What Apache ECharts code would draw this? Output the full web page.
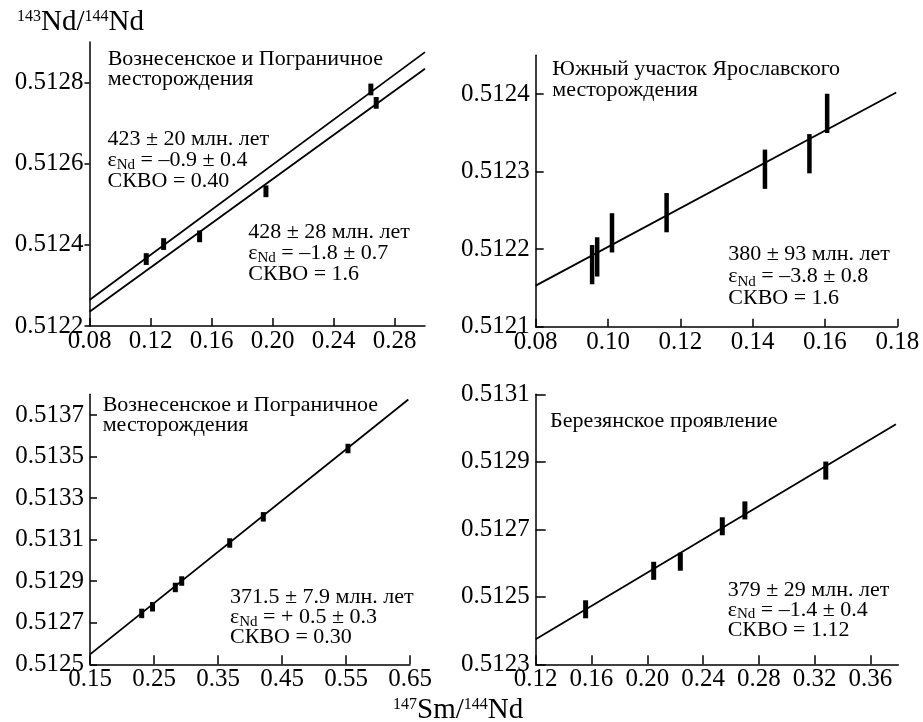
<!DOCTYPE html>
<html><head><meta charset="utf-8">
<script src="https://cdn.jsdelivr.net/npm/echarts@6/dist/echarts.min.js"></script>
<style>html,body{margin:0;padding:0;background:#fff}#c{width:923px;height:722px}</style>
</head><body><div id="c"></div>
<script>
// ---------- Panel A: top-left ----------
const aX   = [0.1172, 0.1286, 0.1522, 0.1957, 0.2645, 0.2680];
const aY   = [0.512365, 0.512402, 0.512421, 0.512532, 0.512783, 0.512750];
const aErr = [0.0000145, 0.0000145, 0.0000145, 0.0000145, 0.0000145, 0.0000145];
const aLine1 = [[0.08, 0.512264], [0.30, 0.512875]];
const aLine2 = [[0.08, 0.512235], [0.30, 0.512834]];
const aXTicks = [0.08, 0.12, 0.16, 0.20, 0.24, 0.28];
const aYTicks = [0.5122, 0.5124, 0.5126, 0.5128];

// ---------- Panel B: top-right ----------
const bX   = [0.0956, 0.0970, 0.1011, 0.1162, 0.1434, 0.1557, 0.1606];
const bY   = [0.512180, 0.512190, 0.512221, 0.512247, 0.512303, 0.512323, 0.512375];
const bErr = [0.0000253, 0.0000253, 0.0000253, 0.0000253, 0.0000253, 0.0000253, 0.0000253];
const bLine = [[0.08, 0.512153], [0.1797, 0.512402]];
const bXTicks = [0.08, 0.10, 0.12, 0.14, 0.16, 0.18];
const bYTicks = [0.5121, 0.5122, 0.5123, 0.5124];

// ---------- Panel C: bottom-left ----------
const cX   = [0.2308, 0.2477, 0.2833, 0.2933, 0.3683, 0.4208, 0.5531];
const cY   = [0.512745, 0.512777, 0.512870, 0.512901, 0.513084, 0.513210, 0.513539];
const cErr = [0.0000228, 0.0000228, 0.0000228, 0.0000228, 0.0000228, 0.0000228, 0.0000228];
const cLine = [[0.15, 0.512548], [0.6474, 0.513775]];
const cXTicks = [0.15, 0.25, 0.35, 0.45, 0.55, 0.65];
const cYTicks = [0.5125, 0.5127, 0.5129, 0.5131, 0.5133, 0.5135, 0.5137];

// ---------- Panel D: bottom-right ----------
const dX   = [0.1558, 0.2046, 0.2237, 0.2538, 0.2700, 0.3280];
const dY   = [0.512463, 0.512577, 0.512604, 0.512709, 0.512756, 0.512874];
const dErr = [0.0000267, 0.0000267, 0.0000267, 0.0000267, 0.0000267, 0.0000267];
const dLine = [[0.12, 0.512374], [0.3783, 0.513011]];
const dXTicks = [0.12, 0.16, 0.20, 0.24, 0.28, 0.32, 0.36];
const dYTicks = [0.5123, 0.5125, 0.5127, 0.5129, 0.5131];

const FONT = '"Liberation Serif", "DejaVu Serif", serif';
const INK = '#000';

function xAxisCfg(gi, min, max, ticks, dec, tickLen) {
  return {
    type: 'value', gridIndex: gi, min: min, max: max,
    axisLine: { show: true, onZero: false, lineStyle: { color: INK, width: 1.5 } },
    axisTick: { show: true, inside: true, length: tickLen, customValues: ticks, lineStyle: { color: INK, width: 1.5 } },
    axisLabel: { customValues: ticks, formatter: v => v.toFixed(dec), color: INK, fontSize: 25, fontFamily: FONT, margin: 3, hideOverlap: false },
    splitLine: { show: false }
  };
}
function yAxisCfg(gi, min, max, ticks, inside, tickLen) {
  return {
    type: 'value', gridIndex: gi, min: min, max: max,
    axisLine: { show: true, onZero: false, lineStyle: { color: INK, width: 1.5 } },
    axisTick: { show: true, inside: inside, length: tickLen, customValues: ticks, lineStyle: { color: INK, width: 1.5 } },
    axisLabel: { customValues: ticks, formatter: v => v.toFixed(4), color: INK, fontSize: 25, fontFamily: FONT, margin: 6, hideOverlap: false },
    splitLine: { show: false }
  };
}
function errRender(w) {
  return function (params, api) {
    const x = api.value(0), y = api.value(1), e = api.value(2);
    const p1 = api.coord([x, y + e]), p2 = api.coord([x, y - e]);
    return { type: 'rect', shape: { x: p1[0] - w / 2, y: p1[1], width: w, height: p2[1] - p1[1] }, style: { fill: INK } };
  };
}
function errSeries(gi, xs, ys, es, w) {
  return { type: 'custom', xAxisIndex: gi, yAxisIndex: gi, renderItem: errRender(w),
    data: xs.map((x, i) => [x, ys[i], es[i]]), z: 5, silent: true };
}
function lineSeries(gi, pts) {
  return { type: 'line', xAxisIndex: gi, yAxisIndex: gi, data: pts, showSymbol: false, symbol: 'none',
    lineStyle: { color: INK, width: 1.8 }, z: 3, silent: true, animation: false };
}

function mkRich(lh) {
  return {
    n:   { fontSize: 22, fontFamily: FONT, color: INK, lineHeight: lh },
    sub: { fontSize: 15, fontFamily: FONT, color: INK, lineHeight: lh, verticalAlign: 'bottom', padding: [0, 0, -2, 0] }
  };
}
function txt(x, y, lines, lh) {
  return { type: 'text', x: x, y: y, silent: true,
    style: { text: lines.join('\n'), fontSize: 22, fontFamily: FONT, fill: INK, lineHeight: lh,
      align: 'left', verticalAlign: 'top', rich: mkRich(lh) } };
}
function eps(rest) { return '{n|ε}{sub|Nd}{n|' + rest + '}'; }

const supRich = {
  m:   { fontSize: 29, fontFamily: FONT, color: INK, lineHeight: 30 },
  sup: { fontSize: 16, fontFamily: FONT, color: INK, lineHeight: 30, verticalAlign: 'top', padding: [2, 0, 0, 0] }
};

const option = {
  animation: false,
  backgroundColor: '#fff',
  grid: [
    { left: 89.5, top: 42, width: 335.5, height: 284, outerBoundsMode: 'none' },
    { left: 535.7, top: 55.2, width: 361.6, height: 271.5, outerBoundsMode: 'none' },
    { left: 90, top: 394.3, width: 320, height: 270, outerBoundsMode: 'none' },
    { left: 535.7, top: 394.3, width: 362.6, height: 270, outerBoundsMode: 'none' }
  ],
  xAxis: [
    xAxisCfg(0, 0.08, 0.30, aXTicks, 2, 8),
    xAxisCfg(1, 0.08, 0.18, bXTicks, 2, 8),
    xAxisCfg(2, 0.15, 0.65, cXTicks, 2, 9),
    xAxisCfg(3, 0.12, 0.38, dXTicks, 2, 9)
  ],
  yAxis: [
    yAxisCfg(0, 0.5122, 0.5129, aYTicks, false, 5),
    yAxisCfg(1, 0.5121, 0.51245, bYTicks, true, 8),
    yAxisCfg(2, 0.5125, 0.5138, cYTicks, true, 7),
    yAxisCfg(3, 0.5123, 0.5131, dYTicks, true, 10)
  ],
  series: [
    lineSeries(0, aLine1), lineSeries(0, aLine2), errSeries(0, aX, aY, aErr, 5),
    lineSeries(1, bLine), errSeries(1, bX, bY, bErr, 4.5),
    lineSeries(2, cLine), errSeries(2, cX, cY, cErr, 5),
    lineSeries(3, dLine), errSeries(3, dX, dY, dErr, 5)
  ],
  graphic: [
    { type: 'text', x: 17, y: 7.2, silent: true,
      style: { text: '{sup|143}{m|Nd/}{sup|144}{m|Nd}', fill: INK, rich: supRich, align: 'left', verticalAlign: 'top' } },
    { type: 'text', x: 393, y: 695.2, silent: true,
      style: { text: '{sup|147}{m|Sm/}{sup|144}{m|Nd}', fill: INK, rich: supRich, align: 'left', verticalAlign: 'top' } },

    txt(107.7, 49.3, ['{n|Вознесенское и Пограничное}', '{n|месторождения}'], 20),
    txt(107.5, 128.8, ['{n|423 ± 20 млн. лет}', eps(' = –0.9 ± 0.4'), '{n|СКВО = 0.40}'], 21),
    txt(248.3, 221.4, ['{n|428 ± 28 млн. лет}', eps(' = –1.8 ± 0.7'), '{n|СКВО = 1.6}'], 21),

    txt(552.3, 58.8, ['{n|Южный участок Ярославского}', '{n|месторождения}'], 21),
    txt(728.3, 243.3, ['{n|380 ± 93 млн. лет}', eps(' = –3.8 ± 0.8'), '{n|СКВО = 1.6}'], 22),

    txt(102.7, 395.3, ['{n|Вознесенское и Пограничное}', '{n|месторождения}'], 20),
    txt(230, 587.6, ['{n|371.5 ± 7.9 млн. лет}', eps(' = + 0.5 ± 0.3'), '{n|СКВО = 0.30}'], 20),

    txt(550, 410.9, ['{n|Березянское проявление}'], 20),
    txt(727.7, 579.9, ['{n|379 ± 29 млн. лет}', eps(' = –1.4 ± 0.4'), '{n|СКВО = 1.12}'], 20)
  ]
};

const chart = echarts.init(document.getElementById('c'), null, { renderer: 'canvas' });
chart.setOption(option);
</script>
</body></html>
